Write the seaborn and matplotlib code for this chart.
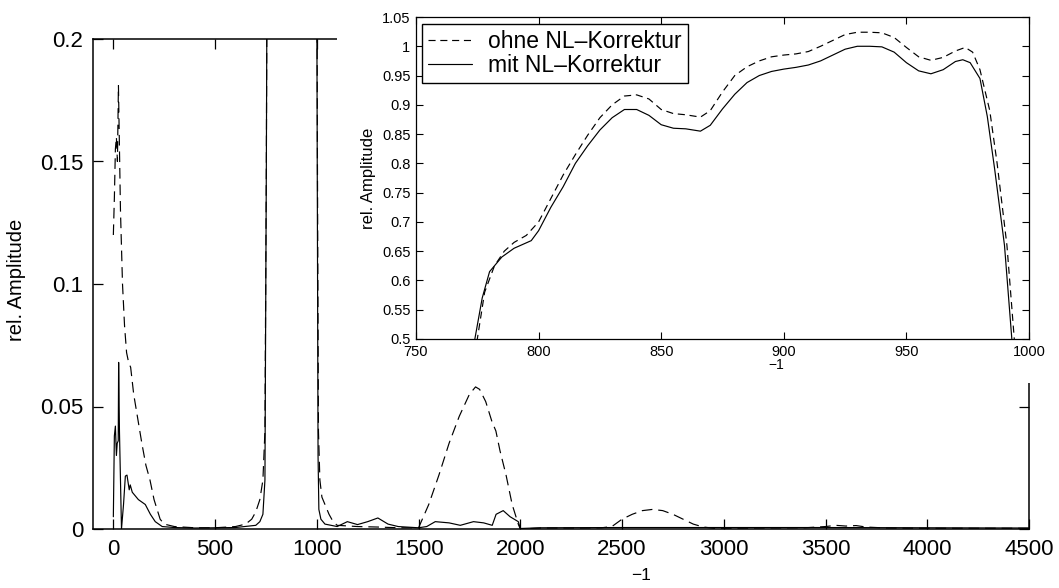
import matplotlib
matplotlib.use("Agg")
import numpy as np
import pandas as pd
import matplotlib.pyplot as plt
import seaborn as sns
from matplotlib.patches import Rectangle

# ---------------- data ----------------
# zoomed band (inset), wavenumber and relative amplitude
zoom_x_ohne = [765, 770, 775, 778, 782, 786, 790, 795, 800, 805, 810, 815, 820, 825, 830,
               835, 840, 845, 850, 855, 860, 866, 870, 875, 880, 885, 890, 895, 900, 905,
               910, 915, 920, 925, 930, 935, 940, 945, 950, 955, 960, 965, 970, 974, 977,
               980, 984, 987, 991, 994, 997]
zoom_y_ohne = [0.36, 0.43, 0.50, 0.58, 0.625, 0.65, 0.665, 0.677, 0.70, 0.74, 0.78, 0.815,
               0.848, 0.878, 0.90, 0.915, 0.917, 0.91, 0.892, 0.885, 0.883, 0.879, 0.89,
               0.922, 0.95, 0.965, 0.975, 0.982, 0.985, 0.987, 0.991, 1.0, 1.01, 1.02,
               1.024, 1.024, 1.023, 1.015, 0.998, 0.982, 0.976, 0.981, 0.992, 0.998, 0.99,
               0.96, 0.89, 0.80, 0.66, 0.50, 0.35]
zoom_x_mit = [765, 770, 774, 777, 780, 785, 790, 797, 800, 805, 810, 815, 820, 825, 830,
              835, 840, 845, 850, 855, 860, 866, 870, 875, 880, 885, 890, 895, 900, 905,
              910, 915, 920, 925, 930, 935, 940, 945, 950, 955, 960, 965, 970, 973, 976,
              980, 983, 986, 990, 993, 996]
zoom_y_mit = [0.37, 0.44, 0.50, 0.57, 0.615, 0.64, 0.655, 0.668, 0.685, 0.725, 0.76, 0.80,
              0.83, 0.857, 0.878, 0.892, 0.892, 0.882, 0.866, 0.860, 0.859, 0.855, 0.865,
              0.893, 0.918, 0.938, 0.95, 0.957, 0.961, 0.964, 0.968, 0.975, 0.985, 0.995,
              1.0, 1.0, 0.999, 0.99, 0.972, 0.958, 0.953, 0.96, 0.974, 0.977, 0.972,
              0.945, 0.88, 0.79, 0.66, 0.50, 0.35]

# full spectrum outside the band: "ohne NL-Korrektur" (dashed)
low_x_ohne = [0, 5, 10, 15, 20, 25, 30, 35, 45, 55, 65, 75, 85, 100, 120, 140, 160, 180,
              200, 215, 230, 250, 300, 400, 500, 600, 650, 680, 700, 720, 735, 745, 752, 758]
low_y_ohne = [0.12, 0.135, 0.155, 0.16, 0.15, 0.181, 0.155, 0.13, 0.10, 0.083, 0.072,
              0.068, 0.066, 0.055, 0.045, 0.035, 0.026, 0.02, 0.012, 0.008, 0.004, 0.002,
              0.001, 0.0005, 0.0005, 0.001, 0.002, 0.004, 0.007, 0.012, 0.02, 0.04, 0.15, 0.3]
high_x_ohne = [1003, 1008, 1015, 1025, 1040, 1060, 1080, 1100, 1200, 1300, 1400, 1500,
               1550, 1600, 1650, 1700, 1750, 1780, 1800, 1830, 1860, 1880, 1900, 1930,
               1960, 1990, 2000, 2100, 2300, 2400, 2450, 2500, 2550, 2600, 2650, 2700,
               2750, 2800, 2850, 2900, 2950, 3000, 3400, 3500, 3550, 3600, 3650, 3700,
               3800, 4000, 4500]
high_y_ohne = [0.15, 0.04, 0.02, 0.013, 0.01, 0.006, 0.003, 0.0015, 0.001, 0.0008, 0.0005,
               0.0005, 0.01, 0.022, 0.035, 0.046, 0.055, 0.058, 0.057, 0.052, 0.044, 0.040,
               0.032, 0.022, 0.01, 0.002, 0.0, 0.0004, 0.0004, 0.0005, 0.001, 0.004, 0.006,
               0.0075, 0.008, 0.0075, 0.006, 0.004, 0.002, 0.0008, 0.0003, 0.0003, 0.0005,
               0.001, 0.0015, 0.0012, 0.0014, 0.0008, 0.0004, 0.0003, 0.0003]

# full spectrum outside the band: "mit NL-Korrektur" (solid)
low_x_mit = [0, 5, 10, 15, 19, 24, 26, 30, 40, 50, 59, 67, 78, 83, 93, 123, 157, 182, 206,
             240, 300, 400, 500, 600, 700, 720, 735, 745, 752, 758]
low_y_mit = [0.005, 0.038, 0.042, 0.03, 0.035, 0.036, 0.068, 0.04, 0.0, 0.01, 0.0216,
             0.022, 0.016, 0.018, 0.015, 0.012, 0.010, 0.006, 0.003, 0.001, 0.0006, 0.0004,
             0.0005, 0.0006, 0.0015, 0.003, 0.006, 0.02, 0.15, 0.3]
high_x_mit = [1002, 1006, 1010, 1020, 1040, 1100, 1150, 1200, 1250, 1300, 1350, 1400, 1500,
              1540, 1582, 1650, 1705, 1770, 1820, 1862, 1881, 1916, 1950, 1990, 2000, 2100,
              2500, 3000, 3500, 4000, 4500]
high_y_mit = [0.15, 0.03, 0.008, 0.004, 0.002, 0.001, 0.003, 0.0018, 0.003, 0.0045, 0.002,
              0.001, 0.0005, 0.001, 0.003, 0.0025, 0.0015, 0.003, 0.0025, 0.0015, 0.006,
              0.0075, 0.005, 0.003, 0.0002, 0.0005, 0.0006, 0.0006, 0.0006, 0.0005, 0.0004]

main_xticks = [0, 500, 1000, 1500, 2000, 2500, 3000, 3500, 4000, 4500]
main_yticks = [0, 0.05, 0.1, 0.15, 0.2]
zoom_xticks = [750, 800, 850, 900, 950, 1000]
zoom_yticks = [0.5, 0.55, 0.6, 0.65, 0.7, 0.75, 0.8, 0.85, 0.9, 0.95, 1.0, 1.05]
label_ohne = "ohne NL\u2013Korrektur"
label_mit = "mit NL\u2013Korrektur"
ylabel = "rel. Amplitude"
xlabel = "\u22121"

# ---------------- style ----------------
sns.set_style("ticks")
plt.rcParams["font.family"] = ["Liberation Sans", "DejaVu Sans"]
plt.rcParams["axes.edgecolor"] = "black"
plt.rcParams["xtick.color"] = "black"
plt.rcParams["ytick.color"] = "black"
plt.rcParams["text.color"] = "black"

W, H = 1059, 588
fig = plt.figure(figsize=(W / 100, H / 100), dpi=100)
fig.patch.set_facecolor("white")

def fx(px):
    return px / W

def fy(py):
    return 1 - py / H

# main axes
ax = fig.add_axes([fx(93), fy(529), fx(1029) - fx(93), fy(39) - fy(529)])
ax.set_zorder(0)

main_x_ohne = low_x_ohne + zoom_x_ohne + high_x_ohne
main_y_ohne = low_y_ohne + zoom_y_ohne + high_y_ohne
main_x_mit = low_x_mit + zoom_x_mit + high_x_mit
main_y_mit = low_y_mit + zoom_y_mit + high_y_mit

sns.lineplot(x=main_x_ohne, y=main_y_ohne, ax=ax, color="black", lw=0.85,
             estimator=None, sort=False)
ax.lines[-1].set_dashes((9, 5))
sns.lineplot(x=main_x_mit, y=main_y_mit, ax=ax, color="black", lw=0.85,
             estimator=None, sort=False)

ax.set_xlim(-100, 4500)
ax.set_ylim(0, 0.2)
ax.set_xticks(main_xticks)
ax.set_xticklabels([str(t) for t in main_xticks])
ax.set_yticks(main_yticks)
ax.set_yticklabels(["0", "0.05", "0.1", "0.15", "0.2"])
ax.tick_params(direction="in", top=True, right=True, length=7, width=0.9,
               labelsize=16, pad=7)
for s in ax.spines.values():
    s.set_visible(True)
    s.set_linewidth(1.1)
    s.set_color("black")
ax.set_xlabel("")
ax.set_ylabel("")
if ax.get_legend() is not None:
    ax.get_legend().remove()

fig.text(fx(17), fy(280), ylabel, rotation=90, ha="center", va="center", fontsize=14.5)
fig.text(fx(641), fy(575), xlabel, ha="center", va="center", fontsize=12.5)

# white panel behind inset
fig.patches.append(Rectangle((fx(337), fy(383)), 1 - fx(337), 1 - fy(383) + 0.01,
                             transform=fig.transFigure, facecolor="white",
                             edgecolor="none", zorder=1))

# inset axes
ia = fig.add_axes([fx(416), fy(339), fx(1029) - fx(416), fy(17) - fy(339)])
ia.set_zorder(2)
ia.set_facecolor("white")
sns.lineplot(x=zoom_x_ohne, y=zoom_y_ohne, ax=ia, color="black", lw=0.85,
             estimator=None, sort=False, label=label_ohne)
ia.lines[-1].set_dashes((6, 4))
sns.lineplot(x=zoom_x_mit, y=zoom_y_mit, ax=ia, color="black", lw=0.85,
             estimator=None, sort=False, label=label_mit)
ia.set_xlim(750, 1000)
ia.set_ylim(0.5, 1.05)
ia.set_xticks(zoom_xticks)
ia.set_xticklabels([str(t) for t in zoom_xticks])
ia.set_yticks(zoom_yticks)
ia.set_yticklabels(["%g" % t for t in zoom_yticks])
ia.tick_params(direction="in", top=True, right=True, length=5, width=0.8,
               labelsize=10.5, pad=4)
for s in ia.spines.values():
    s.set_visible(True)
    s.set_linewidth(0.9)
    s.set_color("black")
ia.set_xlabel("")
ia.set_ylabel("")
fig.text(fx(368), fy(178), ylabel, rotation=90, ha="center", va="center", fontsize=12)
fig.text(fx(776), fy(365), xlabel, ha="center", va="center", fontsize=10)

leg = ia.legend(loc="upper left", bbox_to_anchor=((422 - 416) / 613, 1 - (24 - 17) / 322),
                borderaxespad=0, frameon=True, fancybox=False, framealpha=1,
                edgecolor="black", fontsize=16.5, handlelength=1.95, handletextpad=0.7,
                borderpad=0.25, labelspacing=0.05)
leg.get_frame().set_linewidth(1.0)
leg.get_lines()[0].set_dashes((6, 4))

fig.savefig("out.png", dpi=100, facecolor="white")
